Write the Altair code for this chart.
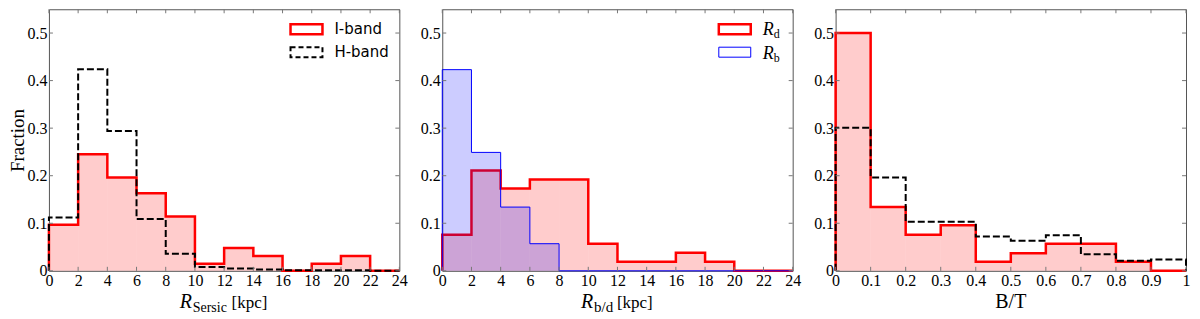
import altair as alt
import pandas as pd

# ---------------- data ----------------
edges_r = [0, 2, 4, 6, 8, 10, 12, 14, 16, 18, 20, 22, 24]
edges_bt = [0.0, 0.1, 0.2, 0.3, 0.4, 0.5, 0.6, 0.7, 0.8, 0.9, 1.0]

sersic_iband = [0.097, 0.245, 0.196, 0.163, 0.114, 0.015, 0.048, 0.031, 0.0, 0.015, 0.031, 0.0]
sersic_hband = [0.112, 0.424, 0.294, 0.109, 0.036, 0.008, 0.005, 0.003, 0.001, 0.001, 0.001, 0.0]

radius_disk = [0.076, 0.211, 0.173, 0.192, 0.192, 0.057, 0.019, 0.019, 0.038, 0.019, 0.0, 0.0]
radius_bulge = [0.423, 0.249, 0.134, 0.057, 0.0, 0.0, 0.0, 0.0, 0.0, 0.0, 0.0, 0.0]

bt_iband = [0.5, 0.134, 0.076, 0.096, 0.019, 0.037, 0.057, 0.057, 0.019, 0.0]
bt_hband = [0.301, 0.196, 0.103, 0.103, 0.072, 0.063, 0.075, 0.035, 0.021, 0.024]

x_ticks_r = [0, 2, 4, 6, 8, 10, 12, 14, 16, 18, 20, 22, 24]
x_ticks_bt = [0, 0.1, 0.2, 0.3, 0.4, 0.5, 0.6, 0.7, 0.8, 0.9, 1]
y_ticks = [0, 0.1, 0.2, 0.3, 0.4, 0.5]

# ---------------- style ----------------
W, H = 351, 262
GAP = 43
TICK = 4
SERIF = "Liberation Serif"
SANS = "DejaVu Sans"
FRAME = "#555555"
TICKC = "#777777"


def bins_df(edges, vals):
    return pd.DataFrame({"lo": edges[:-1], "hi": edges[1:], "v": vals})


def step_df(edges, vals):
    xs, ys = [edges[0]], [0.0]
    for i, v in enumerate(vals):
        xs += [edges[i], edges[i + 1]]
        ys += [v, v]
    xs.append(edges[-1])
    ys.append(0.0)
    return pd.DataFrame({"x": xs, "y": ys, "o": list(range(len(xs)))})


one = pd.DataFrame({"a": [0]})


def make_panel(edges, xticks, layers_spec, legend, xtitle, ytitle):
    xs = alt.Scale(domain=[edges[0], edges[-1]], nice=False, zero=False)
    ys = alt.Scale(domain=[0, 0.55], nice=False)
    xax = alt.Axis(values=xticks, format="~g", ticks=False, domain=False, grid=False,
                   labelFont=SERIF, labelFontSize=16, labelPadding=2, labelFlush=False,
                   labelOverlap=False, labelColor="black", title=None)
    yargs = dict(values=y_ticks, format="~g", ticks=False, domain=False, grid=False,
                 labelFont=SERIF, labelFontSize=16, labelPadding=2, labelFlush=False,
                 labelOverlap=False, labelColor="black")
    if ytitle:
        yax = alt.Axis(title=ytitle, titleFont=SERIF, titleFontSize=19,
                       titleFontWeight="normal", titleColor="black", titleX=-21,
                       titleBaseline="bottom", **yargs)
    else:
        yax = alt.Axis(title=None, **yargs)

    def X(f):
        return alt.X(f, type="quantitative", scale=xs, axis=xax)

    def Y(f):
        return alt.Y(f, type="quantitative", scale=ys, axis=yax)

    layers = []
    for kind, edges_, vals, style in layers_spec:
        if kind == "fill":
            layers.append(
                alt.Chart(bins_df(edges_, vals)).mark_rect(
                    fill=style["color"], fillOpacity=0.2, strokeWidth=0
                ).encode(x=X("lo"), x2="hi", y=Y("v"), y2=alt.datum(0))
            )
        else:
            mk = dict(color=style["color"], strokeWidth=style["width"], clip=False)
            if "dash" in style:
                mk["strokeDash"] = style["dash"]
            layers.append(
                alt.Chart(step_df(edges_, vals)).mark_line(**mk).encode(
                    x=X("x"), y=Y("y"), order="o:Q")
            )

    # inward ticks on all four sides
    xt = pd.DataFrame({"t": xticks})
    yt = pd.DataFrame({"t": y_ticks})
    layers += [
        alt.Chart(xt).mark_rule(color=TICKC, strokeWidth=1).encode(
            x=X("t"), y=alt.value(H), y2=alt.value(H - TICK)),
        alt.Chart(xt).mark_rule(color=TICKC, strokeWidth=1).encode(
            x=X("t"), y=alt.value(0), y2=alt.value(TICK)),
        alt.Chart(yt).mark_rule(color=TICKC, strokeWidth=1).encode(
            y=Y("t"), x=alt.value(0), x2=alt.value(TICK)),
        alt.Chart(yt).mark_rule(color=TICKC, strokeWidth=1).encode(
            y=Y("t"), x=alt.value(W), x2=alt.value(W - TICK)),
    ]

    # legend
    for entry in legend:
        px, py = entry["x"], entry["y"]
        rk = dict(fill="white", fillOpacity=0, stroke=entry["color"],
                  strokeWidth=entry["width"])
        if "dash" in entry:
            rk["strokeDash"] = entry["dash"]
        layers.append(alt.Chart(one).mark_rect(**rk).encode(
            x=alt.value(px), x2=alt.value(px + 32), y=alt.value(py), y2=alt.value(py + 10)))
        for t in entry["texts"]:
            layers.append(alt.Chart(one).mark_text(
                text=t["s"], font=t["font"], fontSize=t["size"], fontStyle=t.get("style", "normal"),
                align="left", baseline="alphabetic", color="black"
            ).encode(x=alt.value(t["x"]), y=alt.value(t["y"])))

    # x title pieces
    for t in xtitle:
        layers.append(alt.Chart(one).mark_text(
            text=t["s"], font=SERIF, fontSize=t["size"], fontStyle=t.get("style", "normal"),
            align=t.get("align", "left"), baseline="alphabetic", color="black"
        ).encode(x=alt.value(t["x"]), y=alt.value(t["y"])))

    return alt.layer(*layers).properties(width=W, height=H)


RED = {"color": "#ff0000", "width": 2.5}
BLACK = {"color": "black", "width": 2, "dash": [7, 3]}
BLUE = {"color": "#0000ff", "width": 1}

TY = H + 37   # x-title baseline
SY = H + 41   # subscript baseline

p1 = make_panel(
    edges_r, x_ticks_r,
    [("fill", edges_r, sersic_iband, RED),
     ("line", edges_r, sersic_iband, RED),
     ("line", edges_r, sersic_hband, BLACK)],
    [
        {"x": 242, "y": 15, "color": "#ff0000", "width": 2.5,
         "texts": [{"s": "I-band", "font": SANS, "size": 15, "x": 286, "y": 25}]},
        {"x": 242, "y": 38, "color": "black", "width": 2, "dash": [5, 3],
         "texts": [{"s": "H-band", "font": SANS, "size": 15, "x": 286, "y": 48}]},
    ],
    [{"s": "R", "size": 20, "style": "italic", "x": 131, "y": TY},
     {"s": "Sersic", "size": 14, "x": 144, "y": SY},
     {"s": "[kpc]", "size": 17, "x": 183, "y": TY}],
    "Fraction",
)

p2 = make_panel(
    edges_r, x_ticks_r,
    [("fill", edges_r, radius_disk, RED),
     ("line", edges_r, radius_disk, RED),
     ("fill", edges_r, radius_bulge, BLUE),
     ("line", edges_r, radius_bulge, BLUE)],
    [
        {"x": 277, "y": 15, "color": "#ff0000", "width": 2.5,
         "texts": [{"s": "R", "font": SERIF, "size": 18, "style": "italic", "x": 321, "y": 26},
                   {"s": "d", "font": SERIF, "size": 12, "x": 332, "y": 29}]},
        {"x": 277, "y": 38, "color": "#0000ff", "width": 1,
         "texts": [{"s": "R", "font": SERIF, "size": 18, "style": "italic", "x": 321, "y": 50},
                   {"s": "b", "font": SERIF, "size": 12, "x": 332, "y": 53}]},
    ],
    [{"s": "R", "size": 20, "style": "italic", "x": 139, "y": TY},
     {"s": "b/d", "size": 15, "x": 152, "y": SY},
     {"s": "[kpc]", "size": 17, "x": 175, "y": TY}],
    None,
)

p3 = make_panel(
    edges_bt, x_ticks_bt,
    [("fill", edges_bt, bt_iband, RED),
     ("line", edges_bt, bt_iband, RED),
     ("line", edges_bt, bt_hband, BLACK)],
    [],
    [{"s": "B/T", "size": 20, "align": "center", "x": W / 2, "y": TY}],
    None,
)

chart = alt.hconcat(p1, p2, p3, spacing=GAP, bounds="flush").properties(
    padding={"left": 0, "top": 0, "right": 0, "bottom": 0}
).configure_view(stroke=FRAME, strokeWidth=1)

chart.save("out.html", embed_options={"renderer": "svg", "actions": False})
